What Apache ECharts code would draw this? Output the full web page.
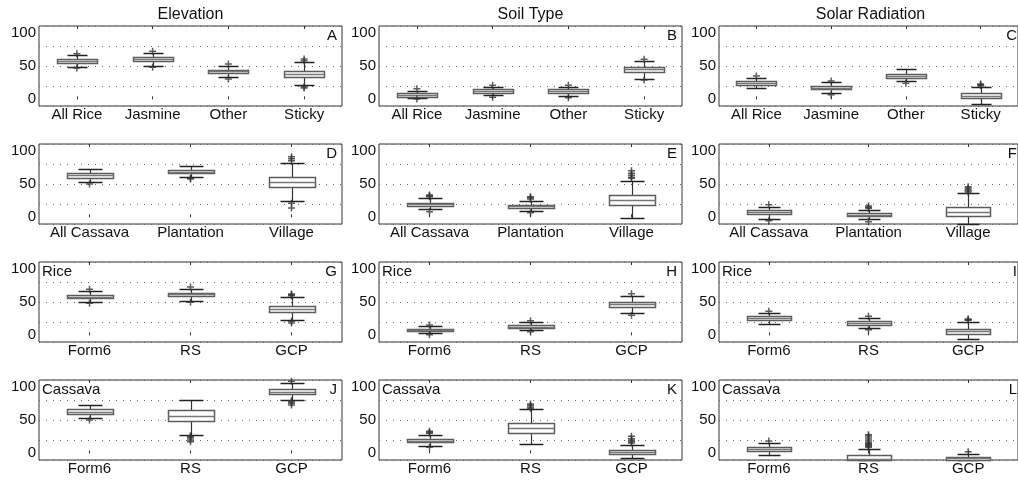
<!DOCTYPE html>
<html>
<head>
<meta charset="utf-8">
<script src="https://cdn.jsdelivr.net/npm/echarts@6/dist/echarts.min.js"></script>
<style>
  html, body { margin: 0; padding: 0; background: #fff; }
  #chart { width: 1018px; height: 481px; }
</style>
</head>
<body>
<div id="chart"></div>
<script>
// Group names for each row of panels
const riceTypes = ['All Rice', 'Jasmine', 'Other', 'Sticky'];
const cassavaTypes = ['All Cassava', 'Plantation', 'Village'];
const dataSources = ['Form6', 'RS', 'GCP'];
const columnTitles = ['Elevation', 'Soil Type', 'Solar Radiation'];
const panelLetters = ['A', 'B', 'C', 'D', 'E', 'F', 'G', 'H', 'I', 'J', 'K', 'L'];
const rowCrops = ['', '', 'Rice', 'Cassava'];
const yTickLabels = [0, 50, 100];

// Box statistics per group: [lower whisker, Q1, median, Q3, upper whisker]
const boxA = [[49, 54, 57, 60, 66.5], [50.5, 57, 60, 63, 70], [33, 39, 42, 44.5, 50.5], [21, 34, 38.5, 43, 55.5]];
const boxB = [[2, 4, 6.5, 9, 13], [6, 10, 12.5, 15, 18], [5.5, 9.5, 12, 15, 18], [31, 41.5, 45.5, 49, 57]];
const boxC = [[16.5, 21.5, 24.5, 27.5, 32.5], [10, 15, 17.5, 20, 25.5], [27, 32.5, 35.5, 38, 45], [-7.5, 1.5, 5, 9, 18]];
const boxD = [[53, 59.5, 63, 66, 73], [61, 66, 68.5, 71, 77], [24, 46, 53.5, 61, 82]];
const boxE = [[12, 17, 19.5, 22, 28.5], [9.5, 14.5, 17, 19, 25], [-1, 18.5, 26, 33.5, 55]];
const boxF = [[-2, 4.5, 7.5, 10.5, 16], [-3, 1.5, 4, 6.5, 11], [-9.5, 2, 8.5, 15, 36]];
const boxG = [[50.5, 55.5, 58, 60.5, 66.5], [51.5, 58.5, 61.5, 64, 70], [22.5, 35, 39.5, 44.5, 57]];
const boxH = [[3.5, 6, 8, 10, 13.5], [7.5, 11, 13, 15, 19.5], [33, 42.5, 46.5, 50, 58.5]];
const boxI = [[17.5, 22.5, 25.5, 28.5, 33.5], [10.5, 16, 18.5, 21, 26], [-5.5, 2.5, 6, 10, 20]];
const boxJ = [[53, 59.5, 62.5, 66, 72.5], [28, 49, 56.5, 65, 79.5], [80.5, 89, 92.5, 96.5, 105.5]];
const boxK = [[11.5, 16.5, 19, 21.5, 28], [14.5, 30.5, 37.5, 45.5, 66], [-7.5, -1, 2.5, 5.5, 13]];
const boxL = [[-2.5, 4, 7, 10, 15.5], [-10, -10, -8.5, -2.5, 6], [-10, -9.5, -7.5, -5, -1]];

// Outliers: [group index, value]
const outA = [[0, 68.5], [0, 47], [1, 72], [1, 48], [2, 53], [2, 30.5], [3, 58], [3, 60.5], [3, 19], [3, 17]];
const outB = [[0, 16], [0, 0.5], [1, 21], [1, 3], [2, 21], [2, 2.5], [3, 60], [3, 29]];
const outC = [[0, 35], [1, 27.5], [1, 7], [2, 24], [3, 20.5], [3, 22], [3, 23]];
const outD = [[0, 50], [1, 58.5], [1, 57.5], [2, 85], [2, 88], [2, 91], [2, 21], [2, 14]];
const outE = [[0, 31], [0, 32.5], [0, 33.5], [0, 8.5], [1, 27.5], [1, 29.5], [1, 31], [1, 7], [2, 58.5], [2, 60], [2, 63], [2, 66], [2, 70]];
const outF = [[0, 19], [0, -5], [1, 13.5], [1, 15], [1, 17], [1, -6.5], [2, 38], [2, 40], [2, 42], [2, 44], [2, 46]];
const outG = [[0, 69], [0, 48], [1, 72.5], [1, 49.5], [2, 59.5], [2, 61], [2, 62], [2, 21], [2, 18.5]];
const outH = [[0, 15.5], [0, 1], [1, 22], [1, 5.5], [2, 62.5], [2, 30]];
const outI = [[0, 36], [1, 28.5], [1, 8.5], [2, 22.5], [2, 23.5], [2, 24.5]];
const outJ = [[0, 50], [1, 26.5], [1, 25], [1, 23], [1, 20], [1, 17.5], [2, 108], [2, 79], [2, 77], [2, 75], [2, 72.5]];
const outK = [[0, 30], [0, 31.5], [0, 33], [0, 9], [1, 67.5], [1, 69.5], [1, 72], [1, 74], [2, 15.5], [2, 17.5], [2, 19.5], [2, 22], [2, 25.5]];
const outL = [[0, 18.5], [1, 9], [1, 10.5], [1, 12], [1, 13.5], [1, 15], [1, 17], [1, 20], [1, 23], [1, 26], [1, 28], [2, 2.5]];

const boxes = [boxA, boxB, boxC, boxD, boxE, boxF, boxG, boxH, boxI, boxJ, boxK, boxL];
const outliers = [outA, outB, outC, outD, outE, outF, outG, outH, outI, outJ, outK, outL];
const rowGroups = [riceTypes, cassavaTypes, dataSources, dataSources];

// Panel layout (pixels)
const colLeft = [39, 379, 719];
const rowTop = [26, 144, 262, 380];
const panelW = 303;
const panelH = 80;
const FONT = '"Liberation Sans", Arial, Helvetica, sans-serif';
const INK = '#111';

const chart = echarts.init(document.getElementById('chart'), null, { renderer: 'canvas' });

function makeBoxRenderer(widthFrac) {
  return function (params, api) {
    const idx = api.value(0);
    const pt = (k) => api.coord([idx, api.value(k)]);
    const lo = pt(1), q1 = pt(2), md = pt(3), q3 = pt(4), hi = pt(5);
    const band = api.size([1, 0])[0];
    const cx = Math.round(lo[0]) + 0.5;
    const half = Math.round(band * widthFrac / 2);
    const cap = Math.round(half / 2);
    const r = (v) => Math.round(v) + 0.5;
    const whisker = { stroke: '#333', lineWidth: 1.2, fill: null };
    const capStyle = { stroke: '#222', lineWidth: 1.5 };
    return {
      type: 'group',
      children: [
        { type: 'line', shape: { x1: cx, y1: r(q3[1]), x2: cx, y2: r(hi[1]) }, style: whisker },
        { type: 'line', shape: { x1: cx, y1: r(q1[1]), x2: cx, y2: r(lo[1]) }, style: whisker },
        { type: 'line', shape: { x1: cx - cap, y1: r(hi[1]), x2: cx + cap, y2: r(hi[1]) }, style: capStyle },
        { type: 'line', shape: { x1: cx - cap, y1: r(lo[1]), x2: cx + cap, y2: r(lo[1]) }, style: capStyle },
        { type: 'rect', shape: { x: cx - half, y: r(q3[1]), width: half * 2, height: Math.max(1, r(q1[1]) - r(q3[1])) },
          style: { fill: '#ffffff', stroke: '#5c5c5c', lineWidth: 1.5 } },
        { type: 'line', shape: { x1: cx - half, y1: r(md[1]), x2: cx + half, y2: r(md[1]) }, style: { stroke: '#777', lineWidth: 1.5 } }
      ]
    };
  };
}

const grids = [], xAxes = [], yAxes = [], series = [], graphics = [];

for (let i = 0; i < 12; i++) {
  const row = Math.floor(i / 3), col = i % 3;
  const cats = rowGroups[row];
  grids.push({
    left: colLeft[col], top: rowTop[row], width: panelW, height: panelH,
    show: true, borderColor: '#333', borderWidth: 1, backgroundColor: '#fff'
  });
  const tick = { show: true, inside: true, length: 3, alignWithLabel: true, lineStyle: { color: '#333' } };
  xAxes.push({
    type: 'category', gridIndex: i, data: cats, position: 'bottom', boundaryGap: true,
    axisLine: { show: false }, axisTick: tick, splitLine: { show: false },
    axisLabel: { margin: 1, fontSize: 15, color: INK, fontFamily: FONT, interval: 0 }
  });
  xAxes.push({
    type: 'category', gridIndex: i, data: cats, position: 'top', boundaryGap: true,
    axisLine: { show: false }, axisTick: tick, axisLabel: { show: false }, splitLine: { show: false }
  });
  yAxes.push({
    type: 'value', gridIndex: i, min: -10, max: 110, interval: 30,
    axisLine: { show: false }, axisTick: { show: false },
    axisLabel: { customValues: yTickLabels, margin: 3, fontSize: 15, color: INK, fontFamily: FONT },
    splitLine: { show: true, lineStyle: { color: '#666', width: 1, type: [1, 6] } }
  });

  const frac = row === 0 ? 0.53 : 0.45;
  series.push({
    type: 'custom', xAxisIndex: 2 * i, yAxisIndex: i,
    renderItem: makeBoxRenderer(frac),
    encode: { x: 0, y: [1, 2, 3, 4, 5] },
    data: boxes[i].map((b, k) => [k].concat(b)),
    z: 2
  });
  series.push({
    type: 'scatter', xAxisIndex: 2 * i, yAxisIndex: i,
    symbol: 'path://M0,5L10,5M5,0L5,10', symbolSize: 7,
    itemStyle: { color: 'rgba(0,0,0,0)', borderColor: '#333', borderWidth: 1.5 },
    data: outliers[i], z: 3, silent: true
  });

  // panel letter at top right
  graphics.push({
    type: 'text', right: 1018 - (colLeft[col] + panelW) + 5, top: rowTop[row] + 2,
    style: { text: panelLetters[i], font: '15px ' + FONT, fill: INK }, z: 10
  });
  if (rowCrops[row]) {
    graphics.push({
      type: 'text', left: colLeft[col] + 3, top: rowTop[row] + 2,
      style: { text: rowCrops[row], font: '15px ' + FONT, fill: INK }, z: 10
    });
  }
}

for (let c = 0; c < 3; c++) {
  graphics.push({
    type: 'text', x: colLeft[c] + panelW / 2, y: 15,
    style: { text: columnTitles[c], font: '16px ' + FONT, fill: INK, align: 'center', verticalAlign: 'middle' }
  });
}

chart.setOption({
  animation: false,
  backgroundColor: '#fff',
  grid: grids,
  xAxis: xAxes,
  yAxis: yAxes,
  series: series,
  graphic: graphics
});
</script>
</body>
</html>
